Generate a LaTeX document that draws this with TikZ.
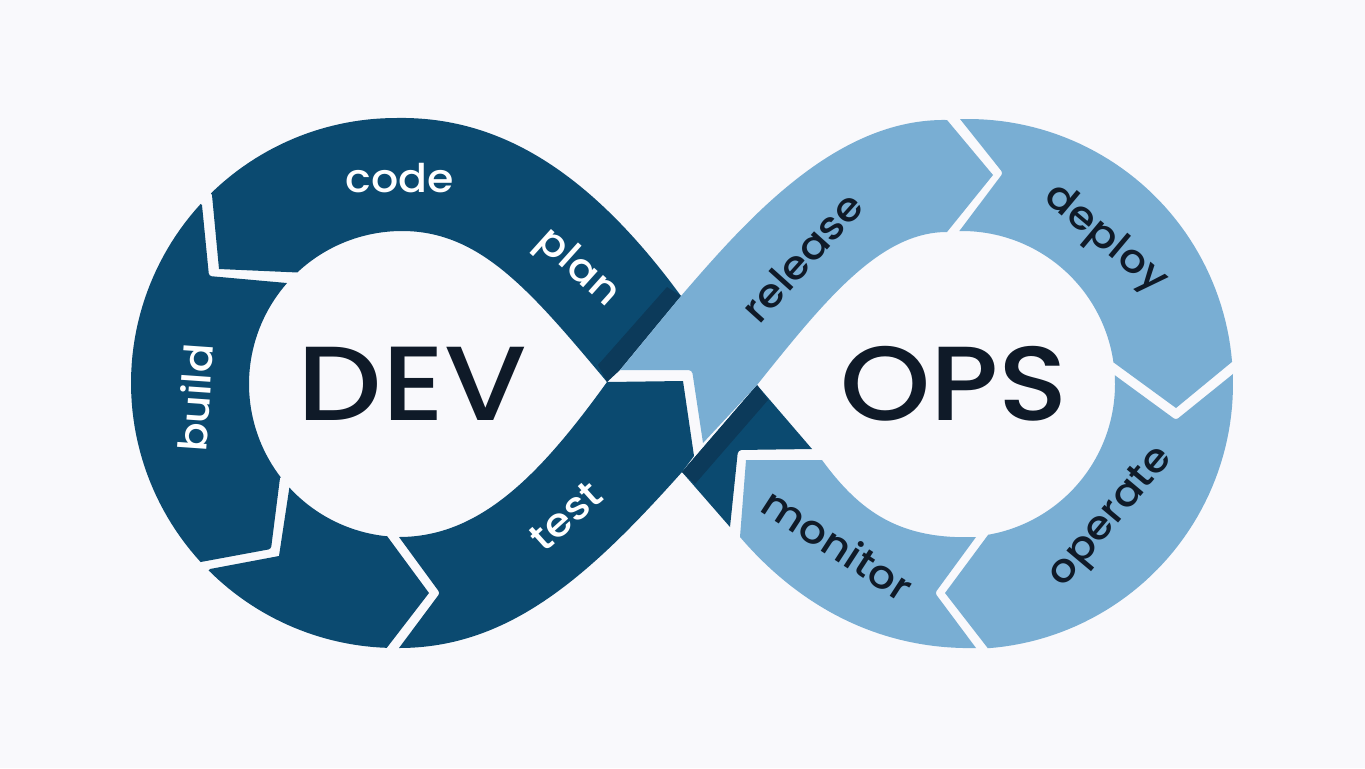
\documentclass[tikz,border=0pt]{standalone}
\usepackage{fontspec}
\setmainfont{Poppins}[UprightFont=* Medium,FakeStretch=1.08]
\newfontfamily\devfont{Poppins}[UprightFont=* Medium,FakeStretch=1.13]
\newfontfamily\opsfont{Poppins}[UprightFont=* Medium,FakeStretch=1.09]
\definecolor{bgc}{HTML}{F9F9FC}
\definecolor{devc}{HTML}{0B4A70}
\definecolor{stripec}{HTML}{0C3A5A}
\definecolor{opsc}{HTML}{79AED3}
\definecolor{inkc}{HTML}{0F1A28}
\tikzset{
  devseg/.style={fill=devc,draw=none},
  opsseg/.style={fill=opsc,draw=none},
  shade band/.style={fill=stripec,draw=none},
  biglabel/.style={text=inkc,inner sep=0pt},
  devlabel/.style={font=\fontsize{22.5}{24}\selectfont,text=white,inner sep=0pt},
  opslabel/.style={font=\fontsize{22.5}{24}\selectfont,text=inkc,inner sep=0pt}
}
\begin{document}
\begin{tikzpicture}[x=0.02cm,y=-0.02cm]
\fill[bgc] (0,0) rectangle (1365,768);
\useasboundingbox (0,0) rectangle (1365,768);
% code + plan
\fill[devseg] (212,195) -- plot[domain=225.7:270,samples=30] ({396+265*cos(\x)},{383+265*sin(\x)})
  .. controls (500,116) and (590,172) .. (681,296) -- (607,382)
  .. controls (530,290) and (480,231) .. (402,231)
  -- plot[domain=270:226.8,samples=30] ({402+153*cos(\x)},{384+153*sin(\x)})
  -- (219,269) -- cycle;
% build
\fill[devseg] (202,205) -- plot[domain=222.5:137.5,samples=50] ({396+265*cos(\x)},{383+265*sin(\x)})
  [rounded corners=1.5pt] -- (271,549) [sharp corners] -- (280,478)
  -- plot[domain=142.4:221.3,samples=40] ({402+153*cos(\x)},{384+153*sin(\x)})
  [rounded corners=1.5pt] -- (209,276) [sharp corners] -- cycle;
% bottom-left
\fill[devseg] (210,569) -- plot[domain=135:92,samples=30] ({396+265*cos(\x)},{383+265*sin(\x)})
  -- (429,593) -- (387,536)
  -- plot[domain=95.6:137.4,samples=30] ({402+153*cos(\x)},{384+153*sin(\x)})
  -- (279,556) -- cycle;
% test
\fill[devseg] (607,382) -- (683,381) -- (694,456) -- (682,472)
  .. controls (590,575) and (510,648) .. (399,648) [rounded corners=1.5pt] -- (440,593) [sharp corners] -- (399,537)
  .. controls (480,537) and (540,475) .. (607,382) -- cycle;
% dark triangle behind monitor
\fill[devseg] (757,385) -- (812,449) [rounded corners=2pt] -- (738,450) [sharp corners] -- (730,527) -- (682,472) -- cycle;
% stripes
\fill[shade band] (681,296) -- (667,287) -- (598,365) -- (607,382) -- (620,370) -- cycle;
\fill[shade band] (757,385) -- (768,400) -- (695,484) -- (682,472) -- cycle;
% release
\fill[opsseg] (620,370) -- (681,296) .. controls (745,222) and (835,118) .. (947,120)
  -- (993,175) -- (947,232) .. controls (880,232) and (825,300) .. (757,385)
  -- (703,443) [rounded corners=2pt] -- (692,370) [sharp corners] -- cycle;
% deploy
\fill[opsseg] (960,119) -- plot[domain=268.3:355.2,samples=50] ({968+265*cos(\x)},{384+265*sin(\x)})
  -- (1176,408) -- (1113,362)
  -- plot[domain=351.7:269,samples=50] ({962+153*cos(\x)},{384+153*sin(\x)})
  [rounded corners=1.5pt] -- (1003,173) [sharp corners] -- cycle;
% operate
\fill[opsseg] (1233,374) -- plot[domain=-2.2:85.7,samples=50] ({968+265*cos(\x)},{384+265*sin(\x)})
  -- (945,593) -- (988,535)
  -- plot[domain=80.2:-3.3,samples=50] ({962+153*cos(\x)},{384+153*sin(\x)})
  [rounded corners=1.5pt] -- (1176,420) [sharp corners] -- cycle;
% monitor
\fill[opsseg] (746,460) -- (822,460) .. controls (860,512) and (900,540) .. (976,537)
  [rounded corners=1.5pt] -- (935,593) [sharp corners] -- (976,648) .. controls (880,650) and (800,607) .. (740,537) -- cycle;
% labels
\node[biglabel,font=\devfont\fontsize{60}{60}\selectfont] (dev) at (412.5,383.5) {DEV};
\node[biglabel,font=\opsfont\fontsize{60}{60}\selectfont] (ops) at (954,384) {OPS};
\node[devlabel] (code) at (400,178) {code};
\node[devlabel,rotate=-42] (plan) at (577,269) {plan};
\node[devlabel,rotate=86] (build) at (195,398) {build};
\node[devlabel,rotate=42] (test) at (566,516) {test};
\node[opslabel,rotate=48] (release) at (802,257) {release};
\node[opslabel,rotate=-40] (deploy) at (1105,240) {deploy};
\node[opslabel,rotate=50] (operate) at (1112,518) {operate};
\node[opslabel,rotate=-33] (monitor) at (838,544) {monitor};
\end{tikzpicture}
\end{document}
